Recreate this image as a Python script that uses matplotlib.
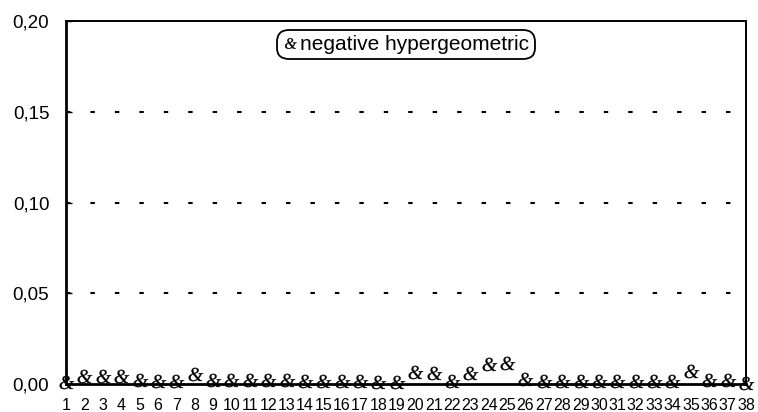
import matplotlib
matplotlib.use("Agg")
import matplotlib.pyplot as plt
from matplotlib.textpath import TextPath
from matplotlib.font_manager import FontProperties
from matplotlib.path import Path

plt.rcParams['font.family'] = ['Liberation Sans', 'DejaVu Sans']
plt.rcParams['lines.scale_dashes'] = False

categories = list(range(1, 39))
values = [0.0013, 0.0044, 0.0044, 0.0046, 0.0024, 0.0018, 0.0018, 0.0054, 0.0022, 0.0022,
          0.0022, 0.0022, 0.0020, 0.0018, 0.0018, 0.0018, 0.0015, 0.0013, 0.0012, 0.0068,
          0.0060, 0.0018, 0.0062, 0.0110, 0.0118, 0.0026, 0.0015, 0.0015, 0.0016, 0.0016,
          0.0016, 0.0015, 0.0015, 0.0016, 0.0073, 0.0020, 0.0020, 0.0007]
series_label = "negative hypergeometric"
y_ticks = [0.00, 0.05, 0.10, 0.15, 0.20]
y_tick_labels = ["0,00", "0,05", "0,10", "0,15", "0,20"]
x_tick_labels = [str(c) for c in categories]

# ampersand glyph marker
tp = TextPath((0, 0), '&', size=10, prop=FontProperties(family='Liberation Serif', style='italic'))
verts = tp.vertices.copy()
cx = (verts[:, 0].min() + verts[:, 0].max()) / 2
cy = (verts[:, 1].min() + verts[:, 1].max()) / 2
verts[:, 0] -= cx
verts[:, 1] -= cy
amp = Path(verts, tp.codes)

fig = plt.figure(figsize=(7.58, 4.12), dpi=100)
ax = fig.add_axes([66/758, (412-384)/412, (746-66)/758, (384-21)/412])

ax.plot(categories, values, linestyle='none', marker=amp, markersize=11,
        color='black', markeredgewidth=0.2, label=series_label, clip_on=False, zorder=3)

ax.set_xlim(1, 38)
ax.set_ylim(0, 0.20)
ax.set_yticks(y_ticks)
ax.set_yticklabels(y_tick_labels, fontsize=13.5)
ax.set_xticks(categories)
ax.set_xticklabels(x_tick_labels, fontsize=11.5)
ax.tick_params(axis='y', direction='in', length=4, width=1, pad=12)
ax.tick_params(axis='x', length=0, pad=10)

for yv in y_ticks[1:-1]:
    ax.axhline(yv, color='black', linewidth=1.5, linestyle=(0, (3.2, 14.4)), zorder=1)

for s in ax.spines.values():
    s.set_linewidth(1.4)
    s.set_color('black')
ax.spines['left'].set_linewidth(2.0)
ax.spines['bottom'].set_linewidth(2.0)

leg = ax.legend(loc='upper center', bbox_to_anchor=(0.5, 0.975), fontsize=15,
                frameon=True, fancybox=True, handlelength=0.7, handletextpad=0.15,
                borderpad=0.25, borderaxespad=0, markerscale=0.8)
frame = leg.get_frame()
frame.set_edgecolor('black')
frame.set_linewidth(1.3)
frame.set_facecolor('white')
frame.set_alpha(1)
frame.set_boxstyle('round', pad=0, rounding_size=0.55)

fig.savefig("out.png", dpi=100)
